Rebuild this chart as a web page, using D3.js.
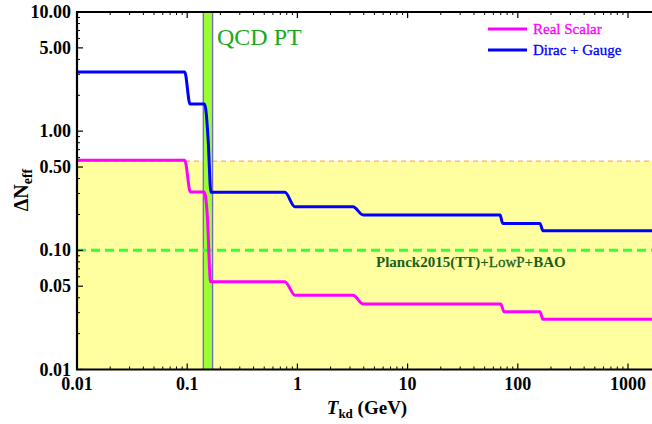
<!DOCTYPE html>
<html><head><meta charset="utf-8">
<script src="https://cdn.jsdelivr.net/npm/d3@7"></script>
<style>body{margin:0;background:#fff}svg{display:block}</style>
</head><body>
<svg id="c" width="652" height="424"></svg>
<script>
// ---- data ----
const realScalar = [[0.01,0.571],[0.095,0.571],[0.107,0.308],[0.143,0.308],[0.152,0.2],[0.163,0.0546],[0.77,0.0546],[0.95,0.042],[3.2,0.042],[3.95,0.0354],[70,0.0354],[75,0.0305],[159,0.0305],[169,0.0264],[2000,0.0264]];
const diracGauge = [[0.01,3.14],[0.095,3.14],[0.106,1.69],[0.144,1.69],[0.155,0.84],[0.164,0.307],[0.77,0.307],[0.95,0.232],[3.2,0.232],[3.95,0.198],[69,0.198],[73,0.168],[159,0.168],[169,0.146],[2000,0.146]];
const qcdBand = [0.14, 0.17];
const planckBound = 0.1;
const regionTop = 0.561;
const xTickValues = [0.01, 0.1, 1, 10, 100, 1000];
const xTickLabels = ["0.01", "0.1", "1", "10", "100", "1000"];
const yTickValues = [0.01, 0.05, 0.1, 0.5, 1, 5, 10];
const yTickLabels = ["0.01", "0.05", "0.10", "0.50", "1.00", "5.00", "10.00"];
const seriesNames = ["Real Scalar", "Dirac + Gauge"];

// ---- layout ----
const svg = d3.select("#c");
const L = 77, T = 12, B = 369.5, dec = 110.2;
const x = d3.scaleLog().domain([0.01, 2000]).range([L, L + dec * Math.log10(200000)]);
const y = d3.scaleLog().domain([0.01, 10]).range([B, T]);
const R = 652;
const serif = "'Liberation Serif','DejaVu Serif',serif";

svg.append("defs").append("clipPath").attr("id","clip")
  .append("rect").attr("x", L).attr("y", T).attr("width", R - L).attr("height", B - T);
const g = svg.append("g").attr("clip-path","url(#clip)");

// yellow allowed region
g.append("rect").attr("x", L).attr("width", R - L)
  .attr("y", y(regionTop)).attr("height", y(0.01) - y(regionTop)).attr("fill", "#ffffa0");
g.append("line").attr("x1", L).attr("x2", R).attr("y1", y(regionTop)).attr("y2", y(regionTop))
  .attr("stroke", "#ff9933").attr("stroke-width", 1).attr("stroke-dasharray", "5,4");

// QCD band
g.append("rect").attr("x", x(qcdBand[0])).attr("width", x(qcdBand[1]) - x(qcdBand[0]))
  .attr("y", T).attr("height", B - T).attr("fill", "#99ff33");
qcdBand.forEach(v => g.append("line").attr("x1", x(v)).attr("x2", x(v)).attr("y1", T).attr("y2", B)
  .attr("stroke", "#6a6ab8").attr("stroke-width", 1.3));

// Planck line
g.append("line").attr("x1", L).attr("x2", R).attr("y1", y(planckBound)).attr("y2", y(planckBound))
  .attr("stroke", "#33ff33").attr("stroke-width", 3).attr("stroke-dasharray", "9,5");

// curves
const line = d3.line().x(d => x(d[0])).y(d => y(d[1])).curve(d3.curveMonotoneX);
g.append("path").datum(realScalar).attr("d", line).attr("fill","none").attr("stroke","#ff00ff").attr("stroke-width",3);
g.append("path").datum(diracGauge).attr("d", line).attr("fill","none").attr("stroke","#0000ff").attr("stroke-width",3);

// ticks
const minorX = [], minorY = [];
for (let e = -2; e <= 3; e++) for (let k = 2; k <= 9; k++) { const v = k * Math.pow(10, e); if (v < 2000) minorX.push(v); }
for (let e = -2; e <= 0; e++) for (let k = 2; k <= 9; k++) { const v = k * Math.pow(10, e); if (v !== 5 * Math.pow(10, e)) minorY.push(v); }
const tk = svg.append("g").attr("stroke", "#000");
xTickValues.forEach(v => {
  tk.append("line").attr("x1", x(v)).attr("x2", x(v)).attr("y1", B).attr("y2", B - 6).attr("stroke-width", 1.2);
  tk.append("line").attr("x1", x(v)).attr("x2", x(v)).attr("y1", T).attr("y2", T + 6).attr("stroke-width", 1.2);
});
minorX.forEach(v => {
  tk.append("line").attr("x1", x(v)).attr("x2", x(v)).attr("y1", B).attr("y2", B - 3).attr("stroke-width", 1);
  tk.append("line").attr("x1", x(v)).attr("x2", x(v)).attr("y1", T).attr("y2", T + 3).attr("stroke-width", 1);
});
yTickValues.forEach(v => tk.append("line").attr("x1", L).attr("x2", L + 6).attr("y1", y(v)).attr("y2", y(v)).attr("stroke-width", 1.2));
minorY.forEach(v => tk.append("line").attr("x1", L).attr("x2", L + 3).attr("y1", y(v)).attr("y2", y(v)).attr("stroke-width", 1));

// frame
svg.append("path").attr("d", `M${R},${T}H${L}V${B}H${R}`).attr("fill","none").attr("stroke","#000").attr("stroke-width",2.2);

// tick labels
xTickValues.forEach((v, i) => svg.append("text").attr("x", x(v)).attr("y", 390).attr("text-anchor","middle")
  .attr("font-family", serif).attr("font-weight","bold").attr("font-size", 18).text(xTickLabels[i]));
yTickValues.forEach((v, i) => svg.append("text").attr("x", 71).attr("y", y(v) + 6).attr("text-anchor","end")
  .attr("font-family", serif).attr("font-weight","bold").attr("font-size", 18).text(yTickLabels[i]));

// axis titles
const xt = svg.append("text").attr("x", 367).attr("y", 414).attr("text-anchor","middle")
  .attr("font-family", serif).attr("font-weight","bold").attr("font-size", 19);
xt.append("tspan").attr("font-style","italic").text("T");
xt.append("tspan").attr("font-size", 13).attr("dy", 4).text("kd");
xt.append("tspan").attr("dy", -4).text(" (GeV)");
const yt = svg.append("text").attr("transform","translate(28,190) rotate(-90)").attr("text-anchor","middle")
  .attr("font-family", serif).attr("font-weight","bold").attr("font-size", 20);
yt.append("tspan").text("ΔN");
yt.append("tspan").attr("font-size", 14).attr("dy", 4).text("eff");

// annotations
svg.append("text").attr("x", 217).attr("y", 45).attr("font-family", serif).attr("font-size", 24)
  .attr("fill", "#1aaa1a").text("QCD PT");
const pl = svg.append("text").attr("x", 376).attr("y", 267).attr("font-family", serif).attr("font-size", 15)
  .attr("font-weight","bold").attr("fill", "#1a5e1a");
pl.append("tspan").text("Planck2015(TT)+");
pl.append("tspan").attr("font-weight","normal").attr("stroke","#1a5e1a").attr("stroke-width",0.3).text("LowP");
pl.append("tspan").text("+BAO");

// legend
const legColors = ["#ff00ff", "#0000ff"];
seriesNames.forEach((n, i) => {
  const ly = 29 + i * 21;
  svg.append("line").attr("x1", 488).attr("x2", 527).attr("y1", ly).attr("y2", ly)
    .attr("stroke", legColors[i]).attr("stroke-width", 3);
  svg.append("text").attr("x", 533).attr("y", ly + 5).attr("font-family", serif).attr("font-size", 15)
    .attr("fill", legColors[i]).attr("stroke", legColors[i]).attr("stroke-width", 0.3).text(n);
});
</script>
</body></html>
